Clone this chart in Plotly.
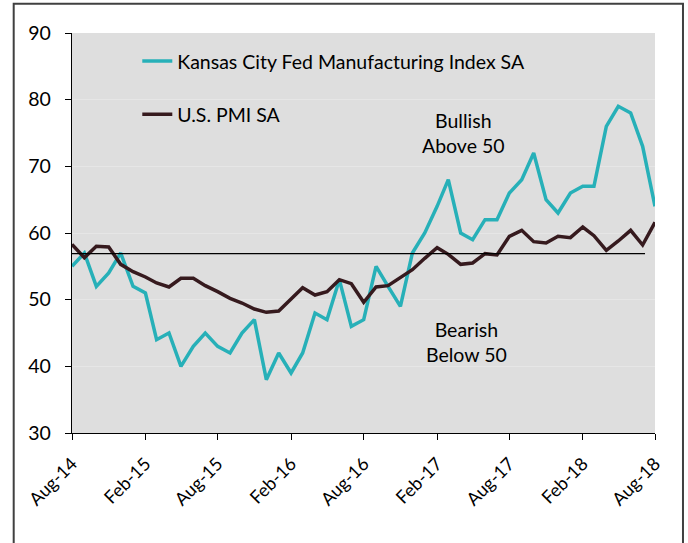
import plotly.graph_objects as go
import pandas as pd

months = pd.date_range("2014-08-01", "2018-08-01", freq="MS")

kc_index = [55, 57, 52, 54, 57, 52, 51, 44, 45, 40, 43, 45, 43, 42, 45, 47, 38, 42, 39, 42,
            48, 47, 53, 46, 47, 55, 52, 49, 57, 60, 64, 68, 60, 59, 62, 62, 66, 68, 72, 65,
            63, 66, 67, 67, 76, 79, 78, 73, 64]
us_pmi = [58.3, 56.3, 58.0, 57.9, 55.3, 54.2, 53.4, 52.5, 51.9, 53.2, 53.2, 52.1, 51.2, 50.2,
          49.5, 48.6, 48.1, 48.3, 50.1, 51.8, 50.7, 51.2, 53.0, 52.4, 49.6, 51.9, 52.1, 53.3,
          54.5, 56.2, 57.8, 56.8, 55.3, 55.5, 56.9, 56.7, 59.5, 60.4, 58.7, 58.5, 59.5, 59.3,
          60.9, 59.6, 57.4, 58.8, 60.4, 58.2, 61.6]
threshold_level = 56.9
series_names = ["Kansas City Fed Manufacturing Index SA", "U.S. PMI SA"]
y_ticks = [30, 40, 50, 60, 70, 80, 90]

FONT = "Lato"

fig = go.Figure()
fig.add_trace(go.Scatter(x=months, y=kc_index, mode="lines", name=series_names[0],
                         line=dict(color="#27b0b8", width=3.5), legendgroup="a"))
fig.add_trace(go.Scatter(x=months, y=us_pmi, mode="lines", name=series_names[1],
                         line=dict(color="#361a1e", width=3.5), legendgroup="b"))

fig.add_shape(type="line", xref="x", yref="y", x0=months[0], x1=pd.Timestamp("2018-07-07"),
              y0=threshold_level, y1=threshold_level, line=dict(color="black", width=1.3))

fig.add_annotation(x=pd.Timestamp("2017-04-07"), y=75.0, text="Bullish<br>Above 50",
                   showarrow=False, font=dict(family=FONT, size=19.5, color="black"))
fig.add_annotation(x=pd.Timestamp("2017-04-15"), y=43.6, text="Bearish<br>Below 50",
                   showarrow=False, font=dict(family=FONT, size=19.5, color="black"))

# outer frame
fig.add_shape(type="rect", xref="paper", yref="paper", x0=-0.100, x1=1.048, y0=-0.3, y1=1.073,
              line=dict(color="#404040", width=2), layer="below")

fig.update_layout(
    width=688, height=543,
    margin=dict(l=72, r=33, t=33, b=110),
    paper_bgcolor="white", plot_bgcolor="#dedede",
    font=dict(family=FONT, size=19, color="black"),
    showlegend=True,
    legend=dict(x=0.112, y=0.978, xanchor="left", yanchor="top", bgcolor="rgba(0,0,0,0)",
                font=dict(family=FONT, size=19.5), tracegroupgap=25, traceorder="grouped"),
    xaxis=dict(type="date", range=[months[0], months[-1]], tick0="2014-08-01", dtick="M6",
               tickformat="%b-%y", tickangle=-45, ticks="outside", ticklen=6, tickcolor="black",
               showline=True, linecolor="black", linewidth=1.3, showgrid=False, zeroline=False,
               ticklabelstandoff=6, tickfont=dict(family=FONT, size=18)),
    yaxis=dict(range=[30, 90], tickvals=y_ticks, ticks="outside", ticklen=6, tickcolor="black",
               showline=True, linecolor="black", linewidth=1.3, showgrid=True,
               gridcolor="#e6e6e6", gridwidth=1, zeroline=False, ticklabelstandoff=10,
               tickfont=dict(family=FONT, size=19.5)),
)

fig.write_html("out.html", config={"displayModeBar": False},
               post_script="document.body.style.margin='0';")
